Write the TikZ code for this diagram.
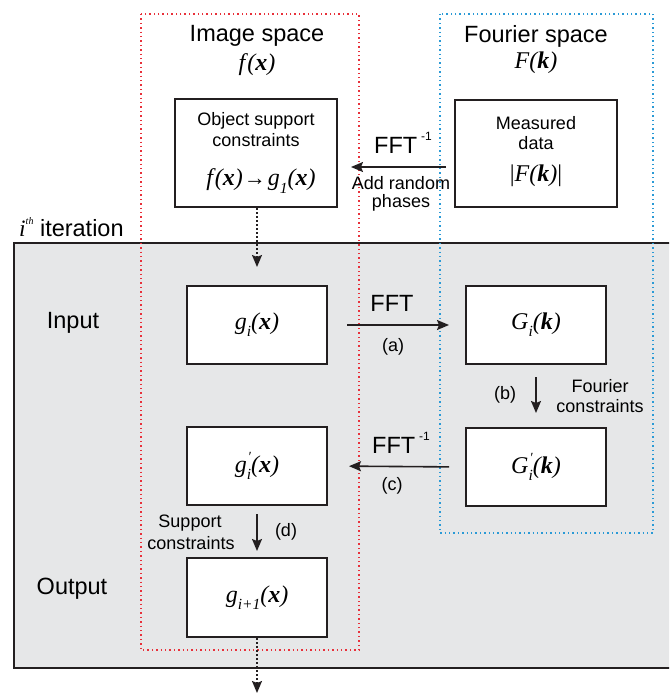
\documentclass[tikz,border=0pt]{standalone}
\usepackage{fontspec}
\setmainfont{Liberation Sans}
\newfontfamily\tms{Liberation Serif}
\usetikzlibrary{arrows.meta}
\definecolor{bggray}{HTML}{E6E7E8}
\definecolor{dred}{HTML}{E8303A}
\definecolor{dblue}{HTML}{2A9AD6}
\definecolor{ink}{HTML}{231F20}
\newcommand{\vi}[1]{{\tms\itshape #1}}
\newcommand{\vb}[1]{{\tms\bfseries\itshape #1}}
\newcommand{\vf}{\vi{f}\kern2pt}
\newcommand{\sbs}[1]{\raisebox{-0.3em}{\fontsize{15.5}{15.5}\selectfont\tms\itshape #1}}
\newcommand{\prsb}[1]{\makebox[0pt][l]{\raisebox{0.45em}{\fontsize{14}{14}\selectfont\tms\itshape \kern1pt′}}\sbs{#1}}
\newcommand{\supm}{\raisebox{0.55em}{\fontsize{12}{12}\selectfont -1}}
\tikzset{
  boxn/.style={draw=ink, line width=2pt, fill=white, inner sep=0pt,
    minimum width=140pt, minimum height=78pt, font=\fontsize{24}{27}\selectfont},
  lg/.style={inner sep=0pt, font=\fontsize{23.5}{26}\selectfont},
  sm/.style={inner sep=0pt, font=\fontsize{18}{20}\selectfont},
  mth/.style={inner sep=0pt, font=\fontsize{24}{27}\selectfont},
  redbox/.style={draw=dred, line width=1.4pt, dash pattern=on 1.4pt off 3pt},
  bluebox/.style={draw=dblue, line width=1.4pt, dash pattern=on 1.4pt off 3pt},
  arr/.style={draw=ink, line width=1.6pt, -{Stealth[length=12pt,width=10pt,inset=2pt]}},
  dotarr/.style={arr, dash pattern=on 2pt off 2pt},
}
\begin{document}
\begin{tikzpicture}[x=1pt,y=-1pt]
\clip (0,0) rectangle (669,695);
\useasboundingbox (0,0) rectangle (669,695);
% iteration region
\fill[bggray] (14,243) rectangle (690,668);
\draw[ink, line width=2.5pt] (690,243) -- (14,243) -- (14,668) -- (690,668);
% space boxes
\draw[redbox] (141,14) rectangle (359,650);
\draw[bluebox] (440,14) rectangle (653,533);
% headers
\node[lg] (imgsp) at (257,36) {Image space};
\node[mth] (imgf) at (257,65) {\vf\vi{(}\vb{x}\vi{)}};
\node[lg] (foursp) at (536,36) {Fourier space};
\node[mth] (fourF) at (536,63) {\vi{F}\vi{(}\vb{k}\vi{)}};
% top boxes
\node[boxn, minimum width=162pt, minimum height=108pt] (obj) at (256,153) {};
\node[sm] (obj1) at (256,121) {Object support};
\node[sm] (obj2) at (256,140) {constraints};
\node[mth] (obj3) at (261,181) {\vf\vi{(}\vb{x}\vi{)}\kern1pt{\tms\fontsize{22}{22}\selectfont→}\kern2pt\vi{g}\sbs{1}\vi{(}\vb{x}\vi{)}};
\node[boxn, minimum width=162pt, minimum height=107pt] (meas) at (536,153.5) {};
\node[sm] (meas1) at (536,123) {Measured};
\node[sm] (meas2) at (536,143) {data};
\node[mth] (meas3) at (536,176) {{\tms|}\vi{F}\vi{(}\vb{k}\vi{)}{\tms|}};
\draw[arr, shorten <=8pt, shorten >=13pt] (meas.west |- 0,167) -- (obj.east |- 0,167);
\node[lg] (fftinv0) at (403,143) {FFT\,\supm};
\node[sm] (addr1) at (401,183) {Add random};
\node[sm] (addr2) at (401,203) {phases};
% iteration label
\node[lg, anchor=west] (ith) at (19,227) {\vi{i}\raisebox{0.5em}{\fontsize{10}{10}\selectfont\tms\itshape th} iteration};
\node[lg] (inp) at (73,323) {Input};
\node[lg] (outp) at (72,589) {Output};
% iteration boxes
\node[boxn] (gi) at (257,325) {\vi{g}\sbs{i}\vi{(}\vb{x}\vi{)}};
\node[boxn] (Gi) at (536,325) {\vi{G}\sbs{i}\vi{(}\vb{k}\vi{)}};
\node[boxn] (Gpi) at (536,467) {\vi{G}\prsb{i}\vi{(}\vb{k}\vi{)}};
\node[boxn] (gpi) at (257,466) {\vi{g}\prsb{i}\vi{(}\vb{x}\vi{)}};
\node[boxn, minimum height=79pt] (gip) at (257,597.5) {\vi{g}\sbs{i+1}\vi{(}\vb{x}\vi{)}};
\coordinate (outend) at (257,693);
% connectors
\draw[dotarr, shorten >=18pt] (obj.south -| gi.north) -- (gi.north);
\draw[arr, shorten <=19pt, shorten >=16pt] (gi.east) -- (Gi.west);
\node[lg] (fft) at (392,303) {FFT};
\node[sm] (la) at (393,347) {(a)};
\draw[arr, shorten <=12pt, shorten >=14pt] (Gi.south) -- (Gpi.north);
\node[sm] (lb) at (505,395) {(b)};
\node[sm] (fc1) at (600,386) {Fourier};
\node[sm] (fc2) at (600,406) {constraints};
\draw[arr, shorten <=16pt, shorten >=21pt] (Gpi.west) -- (gpi.east);
\node[lg] (fftinv) at (401,443) {FFT\,\supm};
\node[sm] (lc) at (392,486) {(c)};
\draw[arr, shorten <=8pt, shorten >=6pt] (gpi.south) -- (gip.north);
\node[sm] (ld) at (286,532) {(d)};
\node[sm] (sc1) at (190,523) {Support};
\node[sm] (sc2) at (191,543) {constraints};
\draw[dotarr] (gip.south) -- (outend);
\end{tikzpicture}
\end{document}
